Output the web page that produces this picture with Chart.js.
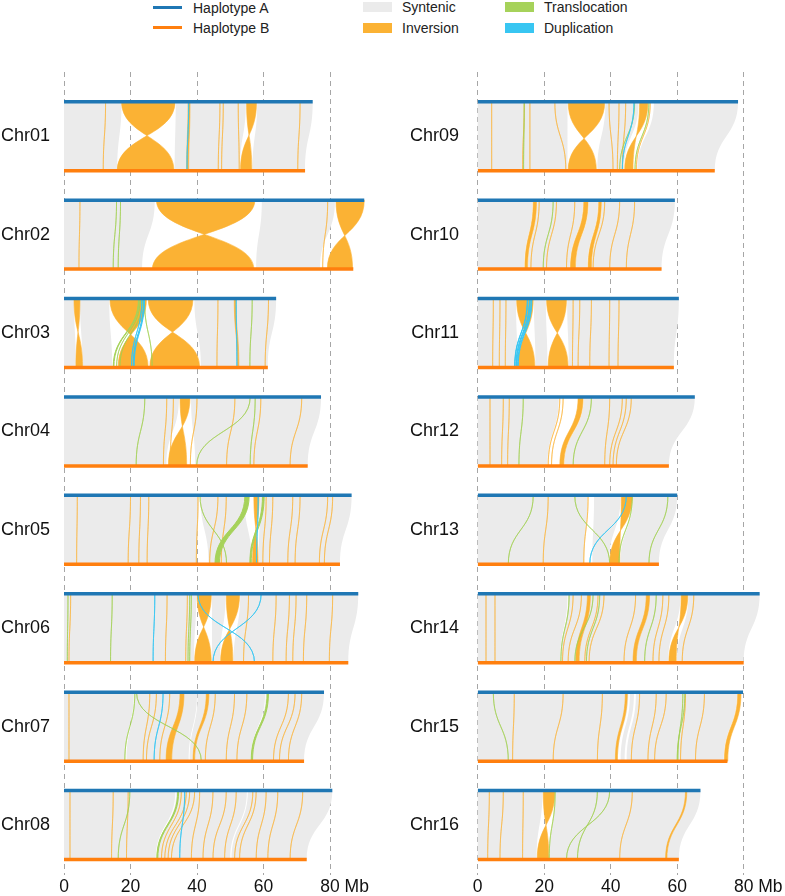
<!DOCTYPE html>
<html>
<head>
<meta charset="utf-8">
<script src="https://cdn.jsdelivr.net/npm/chart.js@4.4.0/dist/chart.umd.min.js"></script>
<style>
  body { margin: 0; background: #fff; }
  #page { position: relative; width: 785px; height: 896px; font-family: 'Liberation Sans', Arial, sans-serif; }
  .key { position: absolute; }
  .keytext { position: absolute; font-size: 14px; line-height: 16px; color: #222; white-space: nowrap; }
  canvas { position: absolute; top: 0; }
</style>
</head>
<body>
<div id="page">
  <div id="legend"></div>
  <canvas id="left" width="392" height="896" style="left:0"></canvas>
  <canvas id="right" width="393" height="896" style="left:392px"></canvas>
</div>
<script>
const chromosomes = ['Chr01', 'Chr02', 'Chr03', 'Chr04', 'Chr05', 'Chr06', 'Chr07', 'Chr08',
  'Chr09', 'Chr10', 'Chr11', 'Chr12', 'Chr13', 'Chr14', 'Chr15', 'Chr16'];
// chromosome lengths in Mb
const lengthA = [74.8, 90.3, 63.8, 77.3, 86.5, 88.5, 78.2, 80.7, 78.3, 59.3, 60.5, 65.3, 60.0, 84.8, 79.8, 67.0];
const lengthB = [72.5, 87.0, 61.3, 73.3, 83.0, 85.5, 72.2, 73.0, 71.3, 55.3, 59.0, 57.5, 54.5, 80.0, 75.1, 60.5];
const xTickValues = [0, 20, 40, 60, 80];
const xTickLabels = ['0', '20', '40', '60', '80 Mb'];

// [chromosome index, start A, end A, start B, end B]
const syntenic = [
  [0, 0, 17.3, 0, 16.0], [0, 33.6, 54.7, 33.3, 52.9], [0, 58.1, 74.8, 56.7, 72.5],
  [1, 0, 27.3, 0, 23.5], [1, 59.5, 81.5, 57.8, 77.0],
  [2, 0, 3.0, 0, 3.6], [2, 4.8, 13.6, 5.6, 14.5], [2, 39.2, 63.8, 41.2, 61.3],
  [3, 0, 34.6, 0, 30.8], [3, 38.2, 77.3, 39.5, 73.3],
  [4, 0, 40.5, 0, 40.0], [4, 41.0, 54.2, 43.5, 56.5], [4, 59.0, 86.5, 58.6, 83.0],
  [5, 0, 39.8, 0, 39.1], [5, 44.5, 48.6, 44.5, 46.9], [5, 53.0, 88.5, 51.0, 85.5],
  [6, 0, 21.0, 0, 18.3], [6, 21.3, 40.0, 18.8, 37.5], [6, 40.2, 60.5, 37.8, 56.2], [6, 60.7, 78.2, 56.5, 72.2],
  [7, 0, 33.5, 0, 27.6], [7, 33.8, 55.0, 28.0, 50.0], [7, 55.3, 80.7, 50.4, 73.0],
  [8, 0, 27.0, 0, 27.0], [8, 38.4, 48.4, 36.0, 44.0], [8, 53.0, 78.3, 48.0, 71.3],
  [9, 0, 16.5, 0, 14.0], [9, 17.9, 31.7, 15.2, 27.7], [9, 33.4, 36.2, 29.6, 33.0], [9, 37.4, 59.3, 34.4, 55.3],
  [10, 0, 11.5, 0, 12.0], [10, 16.9, 20.5, 17.4, 21.0], [10, 26.9, 60.5, 27.4, 59.0],
  [11, 0, 24.4, 0, 21.0], [11, 31.9, 65.3, 26.1, 57.5],
  [12, 0, 33.0, 0, 32.0], [12, 35.0, 43.0, 34.5, 39.5], [12, 46.7, 60.0, 42.9, 54.5],
  [13, 0, 27.0, 0, 24.8], [13, 27.2, 61.0, 25.0, 57.3], [13, 63.4, 84.8, 59.9, 80.0],
  [14, 0, 45.3, 0, 42.2], [14, 45.8, 47.0, 43.0, 44.2], [14, 47.6, 78.0, 44.8, 74.0],
  [15, 0, 19.5, 0, 17.7], [15, 23.4, 67.0, 21.6, 60.5]
];

// large inversions, A start joins B end
const inversions = [
  [0, 17.3, 33.4, 16.0, 33.1], [0, 54.9, 57.9, 53.1, 56.5],
  [1, 27.8, 57.4, 26.6, 57.1], [1, 81.8, 90.3, 79.2, 86.8],
  [2, 3.0, 4.8, 3.6, 5.6], [2, 13.8, 24.8, 16.3, 25.3], [2, 25.3, 38.8, 25.8, 40.8],
  [3, 34.9, 37.9, 31.4, 36.9],
  [4, 57.1, 58.7, 56.7, 58.4],
  [5, 40.0, 44.3, 39.3, 44.3], [5, 48.8, 52.8, 47.1, 50.8],
  [8, 27.2, 38.2, 27.2, 35.7], [8, 48.7, 51.2, 44.2, 46.7],
  [10, 11.7, 16.7, 12.2, 17.2], [10, 20.7, 26.7, 21.2, 27.2],
  [12, 43.2, 46.5, 39.7, 42.7],
  [13, 61.2, 63.2, 57.5, 59.7],
  [15, 19.7, 23.2, 17.9, 21.4]
];

// short inverted segments
const invertedSegments = [
  [0, 37.3, 37.9, 36.9, 37.5], [2, 51.2, 51.7, 52.2, 52.6],
  [6, 34.9, 36.1, 30.7, 32.4], [6, 42.8, 43.6, 38.8, 39.3],
  [9, 16.7, 17.7, 14.2, 15.0], [9, 31.9, 33.2, 27.9, 29.4], [9, 36.4, 37.2, 33.2, 34.2],
  [11, 30.2, 31.7, 24.7, 25.9], [13, 33.0, 33.9, 29.5, 30.5], [13, 50.7, 51.7, 46.7, 47.7],
  [14, 44.4, 45.0, 41.4, 42.0], [14, 78.2, 79.2, 74.2, 75.2], [15, 62.5, 62.9, 56.5, 56.9]
];

// [chromosome index, position A, position B]
const smallInversions = [
  [0, 12.5, 11.8], [0, 46.9, 46.4], [0, 47.9, 47.4], [0, 52.4, 52.7], [0, 71.0, 70.3],
  [1, 4.8, 4.5], [1, 79.3, 77.8],
  [2, 61.5, 60.5], [2, 46.3, 46.0],
  [3, 30.9, 29.9], [3, 32.9, 31.9], [3, 51.4, 48.9], [3, 59.2, 57.1], [3, 71.5, 68.0], [3, 40.0, 38.0],
  [4, 4.0, 3.8], [4, 20.0, 19.3], [4, 23.0, 22.5], [4, 25.5, 25.0], [4, 40.3, 39.8], [4, 46.3, 43.8],
  [4, 48.8, 47.3], [4, 60.8, 59.8], [4, 62.8, 61.8], [4, 68.8, 67.3], [4, 71.0, 69.5], [4, 79.3, 76.8], [4, 80.8, 78.3],
  [5, 2.0, 1.5], [5, 31.0, 30.5], [5, 37.1, 36.6], [5, 55.5, 54.0], [5, 63.8, 62.8], [5, 67.8, 66.8],
  [5, 69.8, 68.8], [5, 73.0, 72.0], [5, 80.8, 79.8],
  [6, 1.5, 1.5], [6, 25.8, 23.8], [6, 27.8, 24.8], [6, 31.8, 28.8], [6, 45.5, 42.5], [6, 51.3, 48.8],
  [6, 55.0, 52.0], [6, 67.5, 63.0], [6, 69.5, 64.8], [6, 71.5, 67.5],
  [7, 1.8, 1.8], [7, 14.8, 14.3], [7, 19.3, 18.8], [7, 35.3, 29.3], [7, 36.8, 30.3], [7, 37.8, 31.3],
  [7, 39.3, 32.3], [7, 40.8, 38.3], [7, 44.8, 41.8], [7, 48.8, 44.8], [7, 51.8, 48.3], [7, 56.8, 51.3],
  [7, 57.8, 52.8], [7, 60.8, 57.8], [7, 64.3, 61.3], [7, 71.8, 68.0],
  [8, 4.2, 4.2], [8, 14.0, 13.5], [8, 15.7, 15.7], [8, 23.2, 26.5], [8, 39.5, 40.7], [8, 42.5, 42.0],
  [8, 44.5, 43.5], [8, 51.9, 47.7],
  [9, 18.5, 16.0], [9, 23.7, 20.7], [9, 29.2, 26.7], [9, 38.2, 34.7], [9, 42.7, 39.7], [9, 47.2, 44.7],
  [10, 4.7, 4.5], [10, 6.7, 6.5], [10, 8.5, 8.3], [10, 28.7, 28.5], [10, 30.7, 30.2], [10, 34.2, 33.7],
  [10, 39.7, 39.5], [10, 42.5, 42.2],
  [11, 3.7, 3.7], [11, 7.7, 7.2], [11, 9.5, 9.0], [11, 24.7, 21.2], [11, 25.7, 22.2], [11, 39.7, 38.2],
  [11, 43.5, 39.7], [11, 44.7, 40.7], [11, 46.2, 41.7],
  [12, 21.2, 19.7], [12, 33.2, 31.9],
  [13, 2.5, 2.5], [13, 5.2, 5.2], [13, 28.7, 25.5], [13, 31.2, 27.2], [13, 36.2, 32.2], [13, 38.0, 33.5],
  [13, 47.5, 44.0], [13, 55.7, 52.7], [13, 57.5, 54.5], [13, 65.0, 61.5],
  [14, 11.0, 10.5], [14, 25.7, 22.7], [14, 37.5, 36.0], [14, 48.7, 46.2], [14, 53.7, 51.2], [14, 56.7, 53.2],
  [14, 62.5, 61.0], [14, 68.2, 65.5],
  [15, 3.5, 3.0], [15, 7.7, 6.7], [15, 13.7, 13.5], [15, 46.5, 42.7]
];

const translocations = [
  [1, 15.8, 15.8, 14.8, 14.8], [1, 17.0, 17.0, 16.3, 16.3],
  [2, 22.4, 22.6, 14.8, 15.0], [2, 22.9, 22.9, 15.8, 15.8], [2, 23.6, 23.6, 16.8, 16.8],
  [2, 24.2, 24.2, 26.5, 26.5], [2, 56.6, 56.6, 55.9, 55.9],
  [3, 24.3, 24.3, 21.7, 21.7], [3, 56.0, 56.0, 39.9, 39.9], [3, 57.5, 57.5, 56.0, 56.0],
  [4, 54.4, 55.7, 45.4, 46.7], [4, 59.7, 60.2, 55.9, 56.3], [4, 40.9, 40.9, 48.9, 48.9],
  [5, 1.2, 1.2, 1.0, 1.0], [5, 14.5, 14.5, 14.0, 14.0], [5, 37.8, 37.8, 37.3, 37.3], [5, 38.3, 38.3, 37.8, 37.8],
  [6, 21.8, 21.8, 41.3, 41.3], [6, 21.3, 21.3, 18.3, 18.3], [6, 61.1, 61.5, 56.3, 56.7],
  [7, 34.2, 34.5, 27.9, 28.2], [7, 19.8, 19.8, 16.3, 16.3],
  [8, 14.0, 14.0, 13.8, 13.8], [8, 47.2, 47.2, 42.7, 42.7], [8, 51.5, 51.5, 47.3, 47.3],
  [9, 22.7, 22.7, 19.7, 19.7],
  [11, 13.7, 13.7, 12.4, 12.4], [11, 34.2, 34.2, 28.7, 28.7],
  [12, 16.7, 16.7, 9.2, 9.2], [12, 29.2, 29.2, 39.7, 39.7], [12, 46.5, 46.5, 42.5, 42.5], [12, 57.2, 57.2, 51.5, 51.5],
  [13, 27.5, 27.5, 25.0, 25.0], [13, 34.7, 34.7, 29.2, 29.2], [13, 36.7, 36.7, 32.7, 32.7], [13, 53.7, 53.7, 50.2, 50.2],
  [14, 4.7, 4.7, 9.2, 9.2], [14, 61.7, 61.7, 60.2, 60.2], [14, 62.3, 62.3, 60.0, 60.0],
  [15, 23.3, 23.3, 21.5, 21.5], [15, 36.0, 36.0, 30.0, 30.0], [15, 39.7, 39.7, 26.7, 26.7]
];

const duplications = [
  [0, 37.5, 37.5, 37.0, 37.0],
  [2, 23.9, 24.2, 20.8, 21.1], [2, 23.4, 23.4, 20.3, 20.3], [2, 51.8, 51.8, 52.0, 52.0],
  [4, 58.4, 58.4, 57.9, 57.9],
  [5, 27.3, 27.3, 26.8, 26.8], [5, 40.3, 40.3, 57.3, 57.3], [5, 59.3, 59.3, 44.8, 44.8],
  [6, 29.8, 29.8, 27.1, 27.1],
  [7, 36.3, 36.3, 34.8, 34.8],
  [8, 47.0, 47.0, 43.5, 43.5],
  [10, 14.9, 15.0, 11.1, 11.2], [10, 15.5, 15.8, 11.5, 11.8], [10, 16.1, 16.3, 12.0, 12.2],
  [12, 44.7, 44.7, 33.7, 33.7]
];

const colors = {
  hapA: '#1f77b4',
  hapB: '#ff7f0e',
  syntenic: '#ebebeb',
  inversion: '#fbb234',
  thinInversion: 'rgba(251,178,52,0.7)',
  translocation: '#a6d25a',
  thinTranslocation: 'rgba(160,208,80,0.8)',
  duplication: '#38c6f2'
};

const rowDepth = 0.701;   // distance between the A and B bars, in row units
const pxPerMb = 3.325;
const font = "'Liberation Sans', Arial, sans-serif";

// legend
const legendItems = [
  { text: 'Haplotype A', color: colors.hapA, line: true, x: 153, y: 7.5 },
  { text: 'Haplotype B', color: colors.hapB, line: true, x: 153, y: 27.5 },
  { text: 'Syntenic', color: colors.syntenic, x: 363, y: 7 },
  { text: 'Inversion', color: colors.inversion, x: 363, y: 27.5 },
  { text: 'Translocation', color: colors.translocation, x: 505, y: 7 },
  { text: 'Duplication', color: colors.duplication, x: 505, y: 27.5 }
];
const legend = document.getElementById('legend');
legendItems.forEach(it => {
  const key = document.createElement('div');
  key.className = 'key';
  const h = it.line ? 3 : 10;
  key.style.cssText = `left:${it.x}px;top:${it.y - h / 2}px;width:29px;height:${h}px;background:${it.color}`;
  legend.appendChild(key);
  const t = document.createElement('div');
  t.className = 'keytext';
  t.style.left = (it.x + (it.line ? 40 : 39)) + 'px';
  t.style.top = (it.y - 8) + 'px';
  t.textContent = it.text;
  legend.appendChild(t);
});

// ribbons are drawn from the pixel positions that Chart.js computed for each point
const ribbonPlugin = {
  id: 'ribbons',
  beforeDatasetDraw(chart, args) {
    const ds = chart.data.datasets[args.index];
    if (!ds.ribbon) return;
    const [p0, p1, p2, p3] = args.meta.data;
    const mid = (p0.y + p2.y) / 2;
    const ctx = chart.ctx;
    ctx.save();
    ctx.beginPath();
    ctx.moveTo(p0.x, p0.y);
    ctx.lineTo(p1.x, p1.y);
    ctx.bezierCurveTo(p1.x, mid, p2.x, mid, p2.x, p2.y);
    ctx.lineTo(p3.x, p3.y);
    ctx.bezierCurveTo(p3.x, mid, p0.x, mid, p0.x, p0.y);
    ctx.closePath();
    ctx.fillStyle = ds.backgroundColor;
    ctx.fill();
    if (ds.borderWidth) {
      ctx.strokeStyle = ds.borderColor;
      ctx.lineWidth = ds.borderWidth;
      ctx.stroke();
    }
    ctx.restore();
    return false;
  }
};

function ribbon(row, a1, a2, b1, b2, color, crossed, order, width) {
  const top = row, bottom = row + rowDepth;
  const data = crossed
    ? [{ x: a1, y: top }, { x: a2, y: top }, { x: b1, y: bottom }, { x: b2, y: bottom }]
    : [{ x: a1, y: top }, { x: a2, y: top }, { x: b2, y: bottom }, { x: b1, y: bottom }];
  return { data, ribbon: true, backgroundColor: color, borderColor: color, borderWidth: width, order, pointRadius: 0 };
}

function bar(y, len, color) {
  return {
    data: [{ x: 0, y }, { x: len, y }],
    showLine: true, borderColor: color, borderWidth: 3.5, borderCapStyle: 'butt',
    pointRadius: 0, order: 0
  };
}

function buildDatasets(panel) {
  const sets = [];
  const mine = c => Math.floor(c / 8) === panel;
  const row = c => c % 8;
  const thin = d => d[1] === d[2];
  chromosomes.forEach((name, c) => {
    if (!mine(c)) return;
    sets.push(bar(row(c), lengthA[c], colors.hapA));
    sets.push(bar(row(c) + rowDepth, lengthB[c], colors.hapB));
  });
  duplications.filter(d => mine(d[0])).forEach(d =>
    sets.push(ribbon(row(d[0]), d[1], d[2], d[3], d[4], colors.duplication, false, 1, thin(d) ? 0.8 : 1)));
  translocations.filter(d => mine(d[0])).forEach(d =>
    sets.push(ribbon(row(d[0]), d[1], d[2], d[3], d[4],
      thin(d) ? colors.thinTranslocation : colors.translocation, false, 1, thin(d) ? 0.8 : 1)));
  smallInversions.filter(d => mine(d[0])).forEach(d =>
    sets.push(ribbon(row(d[0]), d[1], d[1], d[2], d[2], colors.thinInversion, false, 2, 0.8)));
  invertedSegments.filter(d => mine(d[0])).forEach(d =>
    sets.push(ribbon(row(d[0]), d[1], d[2], d[3], d[4], colors.inversion, false, 3, 0.6)));
  inversions.filter(d => mine(d[0])).forEach(d =>
    sets.push(ribbon(row(d[0]), d[1], d[2], d[3], d[4], colors.inversion, true, 3, 0.6)));
  syntenic.filter(d => mine(d[0])).forEach(d =>
    sets.push(ribbon(row(d[0]), d[1], d[2], d[3], d[4], colors.syntenic, false, 4, 0)));
  return sets;
}

function makeChart(id, panel, axisWidth, labelPad, xMax) {
  const canvas = document.getElementById(id);
  const names = chromosomes.slice(panel * 8, panel * 8 + 8);
  return new Chart(canvas, {
    type: 'scatter',
    data: { datasets: buildDatasets(panel) },
    options: {
      responsive: false,
      animation: false,
      events: [],
      layout: { padding: { top: 72, right: canvas.width - axisWidth - xMax * pxPerMb, left: 0, bottom: 0 } },
      elements: { point: { radius: 0 } },
      plugins: { legend: { display: false }, tooltip: { enabled: false } },
      scales: {
        x: {
          type: 'linear', min: 0, max: xMax, z: 1,
          afterBuildTicks: s => { s.ticks = xTickValues.map(v => ({ value: v })); },
          afterFit: s => { s.height = 21; s.paddingLeft = 0; s.paddingRight = 0; },
          ticks: {
            autoSkip: false, maxRotation: 0, padding: 2, color: '#111',
            font: { family: font, size: 17.5 },
            callback: v => {
              const lab = xTickLabels[xTickValues.indexOf(v)];
              return lab.includes(' ') ? ' '.repeat(6) + lab : lab;
            }
          },
          grid: { color: 'rgba(150,150,150,0.85)', lineWidth: 1, drawTicks: false },
          border: { display: false, dash: [5, 4] }
        },
        y: {
          type: 'linear', min: -0.302, max: 7.858, reverse: true,
          afterBuildTicks: s => { s.ticks = names.map((n, i) => ({ value: i + rowDepth / 2 })); },
          afterFit: s => { s.width = axisWidth; s.paddingTop = 0; s.paddingBottom = 0; },
          ticks: {
            autoSkip: false, padding: labelPad, color: '#111',
            font: { family: font, size: 18 },
            callback: (v, i) => names[i]
          },
          grid: { display: false, drawTicks: false },
          border: { display: false }
        }
      }
    },
    plugins: [ribbonPlugin]
  });
}

makeChart('left', 0, 64, 14, 94);
makeChart('right', 1, 85.7, 18.7, 90);
</script>
</body>
</html>
